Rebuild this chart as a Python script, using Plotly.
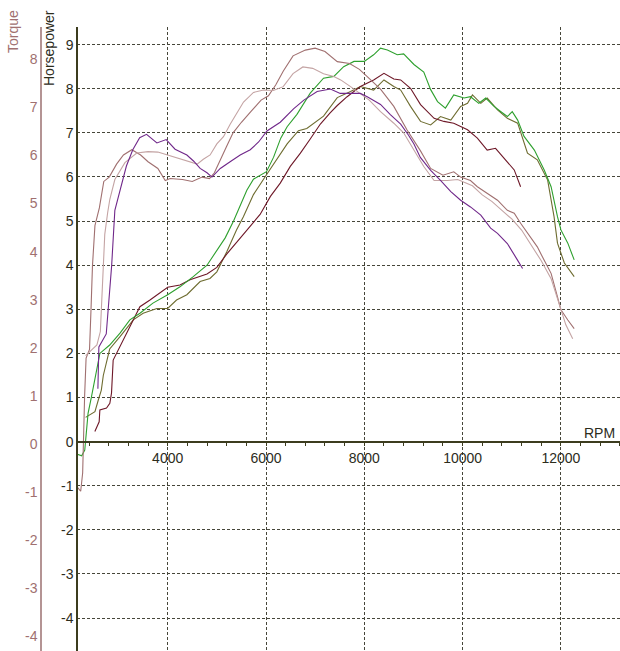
import plotly.graph_objects as go

# ---------------- data ----------------
# Torque curves (torque axis units)
torque1_rpm = [2165, 2230, 2270, 2285, 2310, 2340, 2380, 2410, 2440, 2470,
               2520, 2610, 2700, 2810, 2960, 3100, 3270, 3450, 3600, 3800, 3950,
               4050, 4300, 4500, 4700, 4850, 4950, 5050, 5200, 5330, 5500,
               5700, 5900, 6050, 6200, 6350, 6550, 6800, 7000, 7200, 7450,
               7700, 7900, 8060, 8330, 8600, 8870, 9140, 9350, 9600, 9820,
               9960, 10160, 10300, 10500, 10710, 10910, 11050, 11180, 11320, 11520,
               11660, 11800, 11930, 12000, 12140, 12270]
torque1_val = [-0.90, -0.98, -0.60, 0.20, 1.00, 1.79, 1.88, 1.97, 2.80, 3.71,
               4.54, 4.91, 5.46, 5.55, 5.82, 6.01, 6.12, 6.01, 5.87, 5.73, 5.48,
               5.52, 5.50, 5.46, 5.55, 5.52, 5.64, 5.87, 6.19, 6.47, 6.69,
               6.92, 7.15, 7.24, 7.47, 7.75, 8.07, 8.19, 8.23, 8.16, 7.95,
               7.91, 7.79, 7.64, 7.38, 7.02, 6.53, 6.10, 5.73, 5.59, 5.66,
               5.55, 5.48, 5.35, 5.21, 5.07, 4.86, 4.80, 4.59, 4.38, 4.10,
               3.82, 3.55, 3.06, 2.79, 2.58, 2.40]

torque2_rpm = [2330, 2420, 2560, 2630, 2660, 2690, 2720, 2780, 2823, 2925,
               3130, 3370, 3600, 3800, 4000, 4250, 4450, 4600, 4725, 4863,
               5000, 5135, 5271, 5407, 5543, 5745, 5950, 6150, 6350, 6550,
               6750, 6950, 7170, 7380, 7520, 7720, 7920, 8100, 8330, 8600,
               8800, 9010, 9210, 9420, 9690, 9900, 10030, 10200, 10400, 10600,
               10800, 11000, 11200, 11400, 11600, 11800, 11950, 12100, 12240]
torque2_val = [1.84, 1.93, 2.06, 2.34, 2.98, 3.71, 4.36, 4.82, 5.09, 5.50,
               5.85, 6.05, 6.08, 6.07, 6.01, 5.93, 5.87, 5.82, 5.92, 6.01,
               6.24, 6.39, 6.65, 6.88, 7.11, 7.31, 7.36, 7.35, 7.43, 7.70,
               7.84, 7.81, 7.70, 7.64, 7.57, 7.43, 7.29, 7.15, 6.91, 6.67,
               6.47, 6.10, 5.77, 5.48, 5.48, 5.50, 5.44, 5.37, 5.18, 5.04,
               4.86, 4.68, 4.45, 4.13, 3.81, 3.44, 2.98, 2.48, 2.19]

torque3_rpm = [2580, 2600, 2750, 2820, 2860, 2925, 3060, 3160, 3290, 3430,
               3570, 3780, 3970, 4150, 4390, 4530, 4660, 4800, 4900, 5070,
               5270, 5475, 5680, 5850, 6020, 6290, 6560, 6770, 7040, 7310,
               7510, 7720, 7920, 8060, 8330, 8530, 8740, 8900, 9010, 9140,
               9350, 9550, 9760, 9960, 10160, 10370, 10570, 10710, 10910, 11120,
               11220]
torque3_val = [1.15, 2.02, 2.29, 3.17, 3.71, 4.86, 5.41, 5.78, 6.12, 6.37,
               6.44, 6.26, 6.33, 6.13, 6.01, 5.88, 5.73, 5.64, 5.55, 5.73,
               5.87, 6.01, 6.12, 6.28, 6.51, 6.69, 6.97, 7.15, 7.33, 7.38,
               7.29, 7.29, 7.29, 7.22, 7.06, 6.85, 6.65, 6.42, 6.24, 5.96,
               5.69, 5.48, 5.25, 5.07, 4.93, 4.76, 4.49, 4.38, 4.17, 3.82,
               3.65]

# Horsepower curves (horsepower axis units)
hp1_rpm = [2145, 2250, 2313, 2350, 2380, 2450, 2520, 2620, 2820, 3030,
           3230, 3435, 3700, 4000, 4250, 4520, 4800, 5000, 5170, 5340,
           5475, 5610, 5745, 6010, 6155, 6300, 6430, 6630, 6900, 7170,
           7380, 7580, 7790, 8000, 8190, 8330, 8470, 8670, 8800, 9010,
           9210, 9350, 9490, 9650, 9820, 10030, 10160, 10330, 10470, 10640,
           10780, 10910, 11010, 11120, 11250, 11460, 11660, 11800, 11930, 12000,
           12140, 12270]
hp1_val = [-0.28, -0.32, -0.19, 0.27, 0.64, 1.02, 1.45, 2.0, 2.19, 2.46,
           2.76, 2.91, 3.14, 3.33, 3.51, 3.74, 4.0, 4.35, 4.62, 5.0,
           5.35, 5.7, 5.95, 6.12, 6.45, 6.88, 7.14, 7.42, 7.9, 8.24,
           8.28, 8.5, 8.62, 8.62, 8.77, 8.92, 8.88, 8.77, 8.79, 8.55,
           8.38, 7.98, 7.71, 7.56, 7.86, 7.79, 7.82, 7.67, 7.79, 7.6,
           7.48, 7.37, 7.48, 7.29, 6.92, 6.61, 6.16, 5.78, 5.1, 4.8,
           4.5, 4.12]

hp2_rpm = [2330, 2420, 2520, 2590, 2650, 2690, 2820, 3030, 3300, 3500,
           3780, 4000, 4180, 4390, 4660, 4860, 5000, 5200, 5400, 5540,
           5745, 6010, 6220, 6430, 6660, 6830, 7170, 7450, 7720, 7920,
           8190, 8400, 8600, 8740, 8940, 9144, 9350, 9550, 9760, 9960,
           10100, 10200, 10370, 10500, 10710, 10910, 11120, 11320, 11520, 11730,
           11860, 11930, 12070, 12270]
hp2_val = [0.55, 0.62, 0.68, 0.95, 1.17, 1.5, 2.1, 2.38, 2.76, 2.91,
           3.02, 3.02, 3.21, 3.33, 3.63, 3.7, 3.85, 4.3, 4.8, 5.1,
           5.6, 6.05, 6.4, 6.75, 7.05, 7.1, 7.38, 7.8, 7.94, 8.05,
           7.97, 8.2, 8.05, 7.97, 7.6, 7.26, 7.18, 7.37, 7.29, 7.6,
           7.67, 7.86, 7.67, 7.79, 7.52, 7.33, 7.22, 6.54, 6.39, 5.93,
           5.1, 4.5, 4.05, 3.74]

hp3_rpm = [2518, 2606, 2620, 2756, 2823, 2857, 2891, 3027, 3231, 3435,
           3640, 3843, 4000, 4250, 4455, 4800, 5000, 5200, 5400, 5610,
           5880, 6090, 6290, 6494, 6700, 6900, 7106, 7300, 7450, 7650,
           7920, 8190, 8400, 8600, 8740, 8940, 9144, 9420, 9620, 9820,
           10100, 10300, 10500, 10670, 10840, 11050, 11180]
hp3_val = [0.23, 0.45, 0.72, 0.76, 0.87, 1.1, 1.85, 2.15, 2.61, 3.06,
           3.21, 3.37, 3.5, 3.55, 3.67, 3.8, 3.95, 4.25, 4.52, 4.78,
           5.15, 5.56, 5.86, 6.24, 6.54, 6.86, 7.2, 7.45, 7.62, 7.82,
           8.05, 8.2, 8.35, 8.22, 8.2, 8.01, 7.64, 7.33, 7.26, 7.22,
           7.07, 6.88, 6.61, 6.65, 6.43, 6.16, 5.78]

# Tick labels
hp_ticks = [-4, -3, -2, -1, 0, 1, 2, 3, 4, 5, 6, 7, 8, 9]
hp_ticklabels = ["-4", "-3", "-2", "-1", "0", "1", "2", "3", "4", "5", "6", "7", "8", "9"]
tq_ticks = [-4, -3, -2, -1, 0, 1, 2, 3, 4, 5, 6, 7, 8]
tq_ticklabels = ["-4", "-3", "-2", "-1", "0", "1", "2", "3", "4", "5", "6", "7", "8"]
rpm_ticks = [4000, 6000, 8000, 10000, 12000]
rpm_ticklabels = ["4000", "6000", "8000", "10000", "12000"]

# ---------------- figure ----------------
W, H = 620, 651
FONT = "Liberation Sans, Arial, sans-serif"
AXIS_COL = "#3c3c1e"
GRID_COL = "#46463a"
TQ_COL = "#a07070"

fig = go.Figure()

series = [
    (torque1_rpm, torque1_val, "#a07070", "y2"),
    (torque2_rpm, torque2_val, "#c4a4a4", "y2"),
    (torque3_rpm, torque3_val, "#70288a", "y2"),
    (hp2_rpm, hp2_val, "#6e6c30", "y"),
    (hp3_rpm, hp3_val, "#6e1828", "y"),
    (hp1_rpm, hp1_val, "#2ea02e", "y"),
]
for xs, ys, col, ax in series:
    fig.add_trace(go.Scatter(x=xs, y=ys, mode="lines", yaxis=ax,
                             line=dict(color=col, width=1.1), hoverinfo="skip"))

x0_px = 77
fig.update_layout(
    width=W, height=H,
    margin=dict(l=0, r=0, t=27, b=0),
    paper_bgcolor="white", plot_bgcolor="white",
    showlegend=False,
    font=dict(family=FONT, size=14, color=AXIS_COL),
    xaxis=dict(
        domain=[x0_px / W, 1], range=[2155, 13202],
        anchor="free", position=(H - 441.7) / (H - 27),
        showline=True, linecolor=AXIS_COL, linewidth=1.5,
        ticks="outside", ticklen=4, tickcolor=AXIS_COL, tickwidth=1,
        tickvals=rpm_ticks, ticktext=rpm_ticklabels,
        showgrid=True, gridcolor=GRID_COL, gridwidth=1.2, griddash="3px,2px",
        zeroline=False,
        minor=dict(dtick=400, tick0=0, ticks="outside", ticklen=4,
                   tickcolor=AXIS_COL, showgrid=False),
        tickfont=dict(size=14, color="#2c2c1c"),
    ),
    yaxis=dict(
        domain=[0, 1], range=[-4.746, 9.40],
        anchor="free", position=x0_px / W,
        showline=True, linecolor=AXIS_COL, linewidth=1.5,
        tickvals=hp_ticks, ticktext=hp_ticklabels, ticks="",
        showgrid=True, gridcolor=GRID_COL, gridwidth=1.2, griddash="3px,2px",
        zeroline=False,
        tickfont=dict(size=14, color="#2c2c1c"),
    ),
    yaxis2=dict(
        overlaying="y", anchor="free", position=41 / W, side="left",
        range=[-4.30, 8.67],
        showline=True, linecolor="#b49494", linewidth=1.5,
        tickvals=tq_ticks, ticktext=tq_ticklabels, ticks="",
        showgrid=False, zeroline=False,
        tickfont=dict(size=14, color=TQ_COL),
    ),
)

fig.add_annotation(text="Horsepower", xref="paper", yref="paper",
                   x=49 / W, y=(H - 48) / (H - 27), textangle=-90,
                   xanchor="center", yanchor="middle",
                   showarrow=False, font=dict(size=14, color="#2c2c1c"))
fig.add_annotation(text="Torque", xref="paper", yref="paper",
                   x=13 / W, y=(H - 32) / (H - 27), textangle=-90,
                   xanchor="center", yanchor="middle",
                   showarrow=False, font=dict(size=14, color=TQ_COL))
fig.add_annotation(text="RPM", xref="paper", yref="paper",
                   x=617 / W, y=(H - 433) / (H - 27), xanchor="right", yanchor="middle",
                   showarrow=False, font=dict(size=14, color="#2c2c1c"))

fig.write_html("out.html",
               config={"displayModeBar": False},
               post_script="document.body.style.margin='0';document.body.style.overflow='hidden';")
